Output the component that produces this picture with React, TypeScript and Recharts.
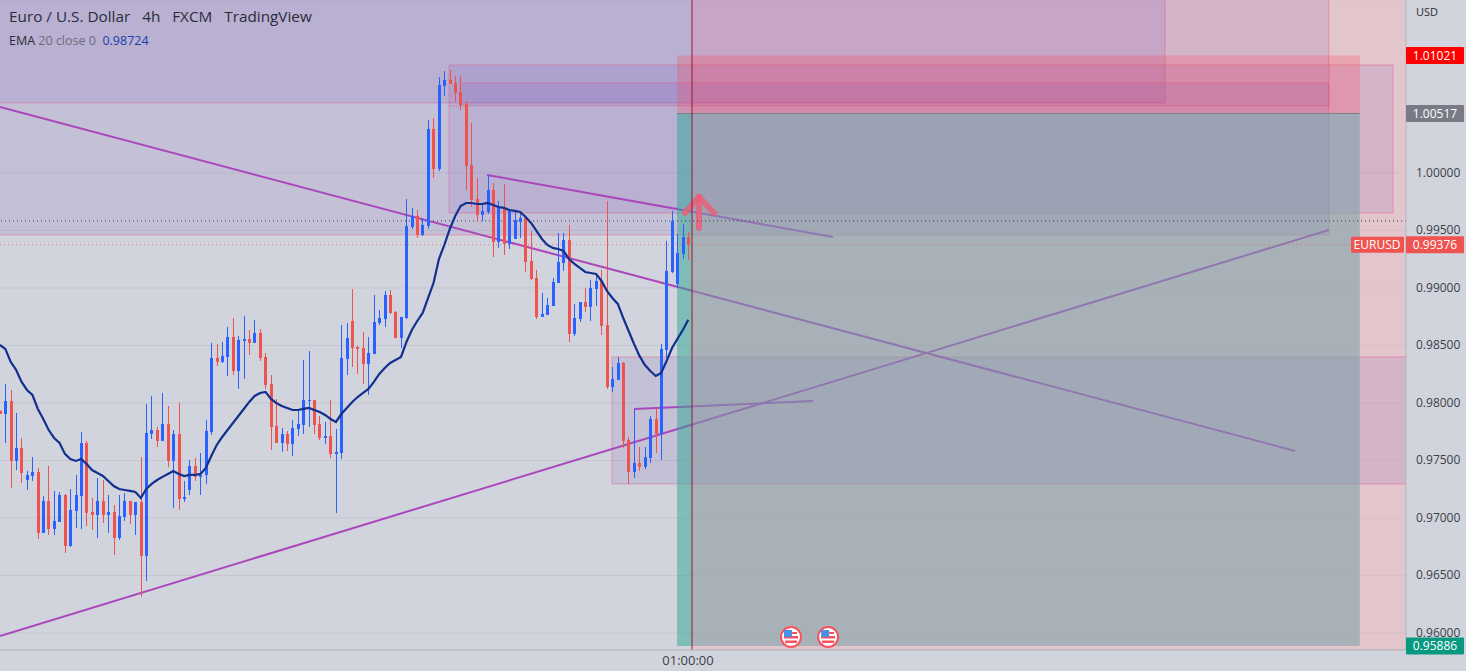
import React from "react";
import {
  ComposedChart, Bar, Line, XAxis, YAxis, CartesianGrid, ReferenceArea, ReferenceLine, ReferenceDot,
} from "recharts";

const sides =
  "RBRBRBBRBR" + "BBRBBBRRBR" + "BRBBRBRBBR" + "BRBRBBRBBB" + "RBBRBBRBRR" + "RRBRBBBBRR" +
  "BRBBBRRRBB" + "BBRRBBBRBB" + "RBBRRRRRRB" + "BRBRBBBRRR" + "BBBBBRBBRB" + "BRRBBRRBRB" + "BRBBBBBR";

const highs = [
  0.97933,0.98165,0.98113,0.97913,0.97696,0.97409,0.97530,0.97435,0.97191,0.97452,
  0.97235,0.97226,0.97209,0.97252,0.97374,0.97748,0.97670,0.97174,0.97348,0.97330,
  0.97200,0.97113,0.97200,0.97217,0.97148,0.97139,0.97530,0.97991,0.98061,0.97791,
  0.98087,0.97974,0.97765,0.98000,0.97322,0.97504,0.97522,0.97565,0.97852,0.98522,
  0.98513,0.98531,0.98661,0.98739,0.98583,0.98756,0.98635,0.98722,0.98643,0.98435,
  0.98243,0.98035,0.97782,0.97756,0.97852,0.97939,0.98374,0.98452,0.98026,0.97887,
  0.97835,0.98026,0.97774,0.98678,0.98696,0.98991,0.98496,0.98617,0.98574,0.98939,
  0.98809,0.98974,0.98983,0.98800,0.98748,0.99774,0.99696,0.99678,0.99609,1.00461,
  1.00478,1.00835,1.00887,1.00896,1.00843,1.00843,1.00626,1.00435,0.99957,0.99730,
  0.99983,0.99913,0.99757,0.99904,0.99687,0.99661,0.99661,0.99617,0.99496,0.99157,
  0.98957,0.98913,0.99087,0.99478,0.99478,0.99548,0.98861,0.98878,0.99000,0.99070,
  0.99130,0.99157,0.99757,0.98313,0.98400,0.98357,0.97704,0.97948,0.97617,0.97617,
  0.97887,0.97957,0.98513,0.99409,0.99670,0.99470,0.99557,0.99487,
];
const bodyTops = [
  0.97933,0.98017,0.98017,0.97609,0.97609,0.97374,0.97400,0.97400,0.97148,0.97148,
  0.96974,0.97200,0.97200,0.97070,0.97200,0.97652,0.97652,0.97052,0.97148,0.97148,
  0.97052,0.97052,0.97017,0.97148,0.97148,0.97139,0.97139,0.97739,0.97765,0.97765,
  0.97817,0.97817,0.97730,0.97730,0.97183,0.97452,0.97452,0.97374,0.97757,0.98391,
  0.98391,0.98409,0.98574,0.98574,0.98548,0.98556,0.98556,0.98609,0.98609,0.98400,
  0.98165,0.97800,0.97730,0.97730,0.97782,0.97817,0.98026,0.98026,0.98026,0.97817,
  0.97713,0.97713,0.97574,0.98391,0.98565,0.98713,0.98487,0.98478,0.98435,0.98704,
  0.98739,0.98939,0.98939,0.98791,0.98748,0.99539,0.99626,0.99626,0.99548,1.00383,
  1.00383,1.00765,1.00809,1.00809,1.00783,1.00704,1.00600,1.00070,0.99774,0.99670,
  0.99852,0.99852,0.99704,0.99696,0.99670,0.99591,0.99609,0.99609,0.99235,0.99087,
  0.98774,0.98852,0.99052,0.99226,0.99417,0.99417,0.98739,0.98878,0.98878,0.99000,
  0.99061,0.99061,0.98678,0.98209,0.98348,0.98348,0.97678,0.97478,0.97478,0.97530,
  0.97861,0.97861,0.98470,0.99148,0.99583,0.99304,0.99443,0.99443,
];
const bodyBottoms = [
  0.97904,0.97904,0.97496,0.97496,0.97391,0.97330,0.97365,0.96870,0.96870,0.96904,
  0.96904,0.96965,0.96757,0.96757,0.97061,0.97191,0.97044,0.97026,0.97026,0.97026,
  0.97026,0.96826,0.96826,0.97009,0.97026,0.97026,0.96670,0.96670,0.97730,0.97670,
  0.97670,0.97496,0.97496,0.97165,0.97165,0.97244,0.97357,0.97357,0.97374,0.97748,
  0.98357,0.98357,0.98400,0.98278,0.98278,0.98539,0.98522,0.98522,0.98391,0.98157,
  0.97791,0.97652,0.97652,0.97643,0.97643,0.97774,0.97809,0.98017,0.97809,0.97696,
  0.97696,0.97556,0.97556,0.97565,0.98383,0.98478,0.98470,0.98339,0.98339,0.98426,
  0.98696,0.98730,0.98783,0.98565,0.98565,0.98739,0.99530,0.99461,0.99461,0.99539,
  1.00035,1.00035,1.00757,1.00774,1.00696,1.00591,1.00061,0.99765,0.99635,0.99635,
  0.99661,0.99400,0.99400,0.99383,0.99383,0.99426,0.99574,0.99226,0.99078,0.98748,
  0.98748,0.98765,0.98843,0.99043,0.99217,0.98600,0.98600,0.98730,0.98835,0.98835,
  0.98991,0.98670,0.98139,0.98139,0.98200,0.97670,0.97400,0.97400,0.97444,0.97444,
  0.97522,0.97730,0.97730,0.98461,0.99139,0.99035,0.99296,0.99376,
];
const lows = [
  0.97904,0.97652,0.97261,0.97417,0.97304,0.97244,0.97322,0.96817,0.96870,0.96852,
  0.96852,0.96965,0.96696,0.96748,0.96913,0.96904,0.96930,0.96896,0.96826,0.96957,
  0.96870,0.96678,0.96809,0.96974,0.96948,0.96852,0.96316,0.96452,0.97687,0.97617,
  0.97670,0.97443,0.97087,0.97070,0.97139,0.97200,0.97322,0.97200,0.97296,0.97722,
  0.98322,0.98348,0.98235,0.98244,0.98122,0.98209,0.98417,0.98522,0.98365,0.98122,
  0.97591,0.97652,0.97574,0.97583,0.97539,0.97713,0.97730,0.97791,0.97730,0.97678,
  0.97643,0.97522,0.97043,0.97513,0.98243,0.98313,0.98252,0.98165,0.98070,0.98426,
  0.98678,0.98661,0.98774,0.98565,0.98478,0.98730,0.99513,0.99435,0.99452,0.99513,
  0.99957,1.00017,1.00670,1.00774,1.00617,1.00548,0.99852,0.99704,0.99574,0.99583,
  0.99643,0.99270,0.99348,0.99287,0.99339,0.99426,0.99435,0.99139,0.99070,0.98730,
  0.98748,0.98765,0.98843,0.99043,0.99148,0.98530,0.98583,0.98704,0.98791,0.98713,
  0.98843,0.98591,0.98122,0.98096,0.98200,0.97609,0.97296,0.97348,0.97409,0.97426,
  0.97478,0.97565,0.97504,0.98391,0.99130,0.99000,0.99252,0.99243,
];
const emaValues = [
  0.98504,0.98470,0.98357,0.98287,0.98183,0.98113,0.98070,0.97948,0.97861,0.97765,
  0.97696,0.97652,0.97557,0.97513,0.97496,0.97513,0.97470,0.97417,0.97391,0.97365,
  0.97322,0.97278,0.97252,0.97243,0.97235,0.97226,0.97174,0.97252,0.97296,0.97330,
  0.97357,0.97383,0.97409,0.97383,0.97365,0.97374,0.97374,0.97383,0.97435,0.97539,
  0.97635,0.97704,0.97765,0.97826,0.97887,0.97948,0.98009,0.98061,0.98087,0.98096,
  0.98035,0.98000,0.97974,0.97957,0.97939,0.97939,0.97948,0.97957,0.97939,0.97922,
  0.97896,0.97861,0.97835,0.97904,0.97957,0.98009,0.98052,0.98087,0.98122,0.98183,
  0.98252,0.98304,0.98348,0.98374,0.98400,0.98530,0.98635,0.98713,0.98783,0.98913,
  0.99043,0.99252,0.99374,0.99513,0.99626,0.99713,0.99739,0.99739,0.99730,0.99730,
  0.99739,0.99722,0.99704,0.99696,0.99678,0.99670,0.99661,0.99617,0.99565,0.99496,
  0.99426,0.99374,0.99348,0.99339,0.99322,0.99252,0.99209,0.99174,0.99139,0.99130,
  0.99122,0.99061,0.98974,0.98913,0.98861,0.98739,0.98626,0.98513,0.98409,0.98330,
  0.98278,0.98235,0.98261,0.98365,0.98478,0.98557,0.98635,0.98724,
];

const priceTicks = [0.96, 0.965, 0.97, 0.975, 0.98, 0.985, 0.99, 0.995, 1.0];
const timeTicks = [126.69];
const timeLabels = ["01:00:00"];

const barStart = -0.983;
const barEnd = 258.42;
const priceMin = 0.95852;
const priceMax = 1.01504;

const cursorBar = 126.69;
const lastPrice = 0.99376;
const crossPrice = 0.99583;

// purple supply/demand zones: [fromBar, toBar, lowPrice, highPrice]; some run past the visible range
const zones = [
  [-20, 213.96, 1.00609, 1.03],
  [-20, 244.2, 0.99461, 1.03],
  [81.86, 256.03, 0.99652, 1.00939],
  [83.89, 244.2, 1.00583, 1.00783],
  [111.93, 280, 0.97296, 0.984],
];
// short position tool
const posFrom = 123.93;
const posTo = 249.9;
const posEntry = 1.00517;
const posStop = 1.01021;
const posTarget = 0.95886;

// trend lines: [fromBar, fromPrice, toBar, toPrice]
const trendLines = [
  [barStart, 1.00574, 237.95, 0.97583],
  [barStart, 0.95974, 244.2, 0.99504],
  [88.87, 0.99983, 152.7, 0.99443],
  [116.0, 0.97948, 149.0, 0.98017],
];
const zoneLedge = [81.86, 83.89, 1.00583];
// arrow strokes: [fromBar, fromPrice, toBar, toPrice]
const arrowStrokes = [
  [127.98, 0.99522, 127.98, 0.99791],
  [125.4, 0.99652, 127.98, 0.99791],
  [130.75, 0.99652, 127.98, 0.99791],
];
const eventBars = [144.96, 151.8];
const eventPrice = 0.95965;

const data = highs.map((high, i) => ({
  bar: i - 1,
  high,
  low: lows[i],
  top: bodyTops[i],
  bottom: bodyBottoms[i],
  rising: sides[i] === "B",
  range: [lows[i], high],
  ema: emaValues[i],
}));

const FONT = "'Open Sans', sans-serif";
const UP = "#2962FF";
const DOWN = "#EF5350";
const ZONE_FILL = "rgb(103,58,183)";
const ZONE_EDGE = "rgba(226,92,130,0.45)";
const TREND = "#AB47BC";

function Candle(props: any) {
  const { x, y, width, height, payload } = props;
  const span = payload.high - payload.low || 1;
  const perUnit = height / span;
  const bodyY = y + (payload.high - payload.top) * perUnit;
  const bodyH = Math.max(1, (payload.top - payload.bottom) * perUnit);
  const color = payload.rising ? UP : DOWN;
  const cx = Math.round(x + width / 2);
  return (
    <g>
      <rect x={cx} y={y} width={1} height={Math.max(height, 1)} fill={color} />
      <rect x={cx - 1} y={bodyY} width={3} height={bodyH} fill={color} />
    </g>
  );
}

function PriceTick(props: any) {
  const { x, y, payload } = props;
  return (
    <text x={x - 6} y={y + 4} textAnchor="start" fill="#3d404b" fontSize={12} fontFamily={FONT}>
      {payload.value.toFixed(5)}
    </text>
  );
}

function TimeTick(props: any) {
  const { x, y, index } = props;
  return (
    <text x={x - 4} y={y + 9} textAnchor="middle" fill="#3d404b" fontSize={13} fontFamily={FONT}>
      {timeLabels[index]}
    </text>
  );
}

function Badge(props: any) {
  const { viewBox, text, fill, extra } = props;
  const { y } = viewBox;
  const left = 1406;
  return (
    <g style={{ fontFamily: FONT, fontSize: 12, fontWeight: 500 }}>
      {extra ? (
        <g>
          <rect x={left - 55} y={y - 8} width={53} height={16} rx={1} fill={fill} />
          <text x={left - 29} y={y + 4} textAnchor="middle" fill="#fff">{extra}</text>
        </g>
      ) : null}
      <rect x={left} y={y - 8.5} width={58} height={17} rx={1} fill={fill} />
      <text x={left + 29} y={y + 4} textAnchor="middle" fill="#fff">{text}</text>
    </g>
  );
}

function Flag(props: any) {
  const { cx, cy } = props;
  return (
    <g>
      <circle cx={cx} cy={cy} r={10} fill="#fff" stroke="#F7525F" strokeWidth={2} />
      <rect x={cx - 7} y={cy - 1} width={14} height={2.5} fill="#F7525F" />
      <rect x={cx - 6} y={cy + 3.5} width={12} height={2.5} fill="#F7525F" />
      <rect x={cx - 7} y={cy - 7} width={8} height={7} fill="#4A90E2" />
      <rect x={cx + 1} y={cy - 5} width={5} height={2} fill="#F7525F" />
    </g>
  );
}

export default function App() {
  return (
    <div style={{ position: "absolute", left: 0, top: 0, width: 1466, height: 671, background: "#D1D4DC", overflow: "hidden" }}>
      <ComposedChart
        width={1466}
        height={671}
        data={data}
        margin={{ top: 0, right: 0, bottom: 0, left: 0 }}
      >
        <CartesianGrid vertical={false} stroke="#c4c7d0" />
        <XAxis
          type="number"
          dataKey="bar"
          domain={[barStart, barEnd]}
          allowDataOverflow
          ticks={timeTicks}
          tick={<TimeTick />}
          tickLine={false}
          tickMargin={0}
          axisLine={{ stroke: "#b2b5be" }}
          height={21}
          interval={0}
        />
        <YAxis
          orientation="right"
          type="number"
          domain={[priceMin, priceMax]}
          allowDataOverflow
          ticks={priceTicks}
          tick={<PriceTick />}
          tickLine={false}
          tickMargin={10}
          axisLine={{ stroke: "#b2b5be" }}
          width={60}
          interval={0}
        />

        <ReferenceArea x1={cursorBar} x2={barEnd} y1={priceMin} y2={priceMax} fill="rgb(254,174,180)" fillOpacity={0.4} stroke="none" zIndex={101} />

        {zones.map((z, i) => (
          <ReferenceArea key={i} x1={z[0]} x2={z[1]} y1={z[2]} y2={z[3]} ifOverflow="hidden" fill={ZONE_FILL} fillOpacity={0.12} stroke={ZONE_EDGE} zIndex={102 + i} />
        ))}
        <ReferenceLine segment={[{ x: zoneLedge[0], y: zoneLedge[2] }, { x: zoneLedge[1], y: zoneLedge[2] }]} stroke={ZONE_EDGE} zIndex={108} />

        {trendLines.map((t, i) => (
          <ReferenceLine key={i} segment={[{ x: t[0], y: t[1] }, { x: t[2], y: t[3] }]} stroke={TREND} strokeWidth={2} zIndex={110} />
        ))}

        <ReferenceArea x1={posFrom} x2={cursorBar} y1={posTarget} y2={posEntry} fill="rgb(45,166,150)" fillOpacity={0.5} stroke="none" zIndex={120} />
        <ReferenceArea x1={cursorBar} x2={posTo} y1={posTarget} y2={posEntry} fill="rgb(120,160,166)" fillOpacity={0.55} stroke="none" zIndex={120} />
        <ReferenceArea x1={posFrom} x2={posTo} y1={posEntry} y2={posStop} fill="rgb(255,60,80)" fillOpacity={0.24} stroke="none" zIndex={121} />
        <ReferenceLine segment={[{ x: posFrom, y: posEntry }, { x: posTo, y: posEntry }]} stroke="#7c8088" zIndex={122} />

        {arrowStrokes.map((a, i) => (
          <ReferenceLine key={i} segment={[{ x: a[0], y: a[1] }, { x: a[2], y: a[3] }]} stroke="#E8607A" strokeOpacity={0.85} strokeWidth={6} strokeLinecap="round" zIndex={130} />
        ))}

        <ReferenceLine y={crossPrice} stroke="#3c3c4a" strokeDasharray="1 3" zIndex={140} />
        <ReferenceLine segment={[{ x: barStart, y: lastPrice }, { x: 248.3, y: lastPrice }]} stroke="#EF5350" strokeOpacity={0.7} strokeDasharray="1 3" zIndex={140} />

        <Bar dataKey="range" barSize={3} shape={<Candle />} isAnimationActive={false} zIndex={300} />
        <Line dataKey="ema" stroke="#12308f" strokeWidth={2.2} dot={false} activeDot={false} isAnimationActive={false} zIndex={400} />

        <ReferenceLine x={cursorBar} stroke="#991b2e" strokeWidth={1} zIndex={450} />

        {eventBars.map((b, i) => (
          <ReferenceDot key={i} x={b} y={eventPrice} r={10} shape={<Flag />} zIndex={460} />
        ))}

        <ReferenceLine y={posStop} stroke="none" zIndex={2000} label={<Badge text="1.01021" fill="#FF0000" />} />
        <ReferenceLine y={posEntry} stroke="none" zIndex={2000} label={<Badge text="1.00517" fill="#787B86" />} />
        <ReferenceLine y={lastPrice} stroke="none" zIndex={2000} label={<Badge text="0.99376" extra="EURUSD" fill="#EF5350" />} />
        <ReferenceLine y={posTarget} stroke="none" zIndex={2000} label={<Badge text="0.95886" fill="#089981" />} />
      </ComposedChart>

      <div style={{ position: "absolute", left: 9, top: 6, fontFamily: FONT, fontSize: 15.3, color: "#2a2e39", whiteSpace: "pre" }}>
        Euro / U.S. Dollar{"   "}4h{"   "}FXCM{"   "}TradingView
      </div>
      <div style={{ position: "absolute", left: 9, top: 32, fontFamily: FONT, fontSize: 12.5, color: "#2a2e39", whiteSpace: "pre" }}>
        EMA <span style={{ color: "#6a6d78" }}>20 close 0</span>{"  "}<span style={{ color: "#1c3faa" }}>0.98724</span>
      </div>
      <div style={{ position: "absolute", left: 1416, top: 4, fontFamily: FONT, fontSize: 11, color: "#2a2e39" }}>USD</div>
    </div>
  );
}
